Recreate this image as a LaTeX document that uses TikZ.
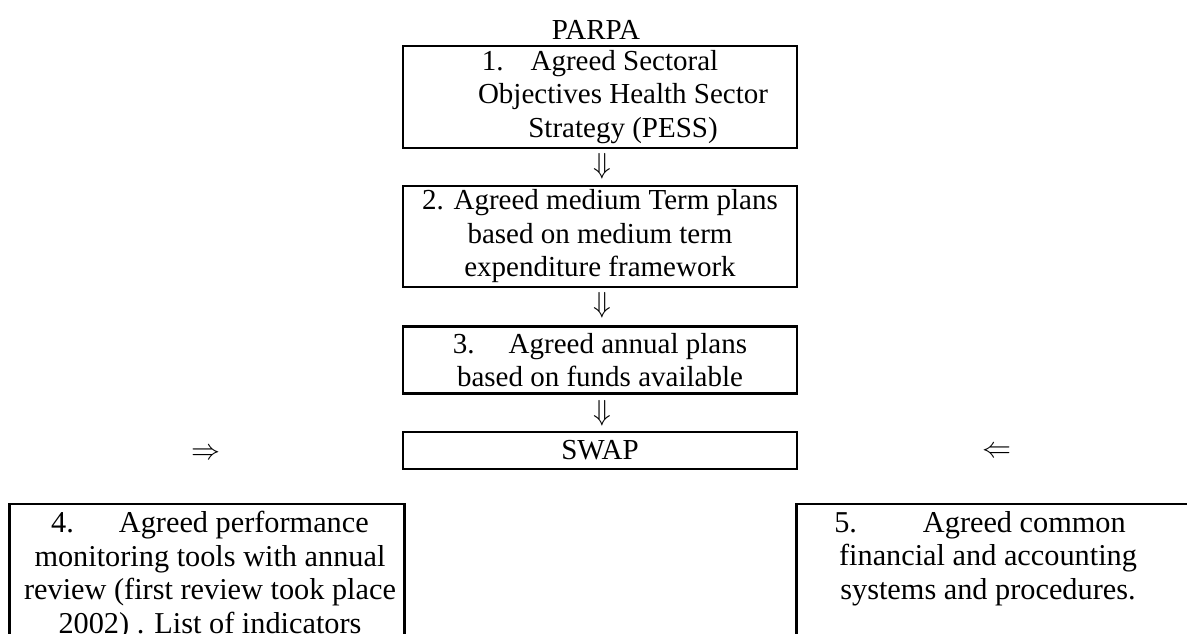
\RequirePackage{fix-cm}
\documentclass[tikz,border=0pt]{standalone}
\usepackage{fontspec}
\setmainfont{Liberation Serif}
\begin{document}
\begin{tikzpicture}[x=1pt,y=-1pt,
  frame/.style={draw, line width=2.6pt, inner sep=0pt},
  box/.style={frame, align=center, font=\fontsize{29}{33.5}\selectfont},
  txt/.style={inner sep=0pt, align=center, font=\fontsize{29}{33.5}\selectfont},
  bigtxt/.style={inner sep=0pt, align=center, font=\fontsize{30.3}{33.4}\selectfont},
  sym/.style={inner sep=0pt, font=\fontsize{29}{33.5}\selectfont}]
\useasboundingbox (0,0) rectangle (1187,633);
\clip (0,0) rectangle (1187,633);
\fill[white] (0,0) rectangle (1187,633);

\node[txt] (parpa) at (596,29.5) {PARPA};

\node[box, minimum width=394, minimum height=102] (b1) at (600,97)
  {1.\hspace{27pt}Agreed Sectoral\\
   \hspace*{46pt}Objectives Health Sector\\
   \hspace*{46pt}Strategy (PESS)};
\node[sym] (a1) at (602,166) {$\Downarrow$};

\node[box, minimum width=394, minimum height=101] (b2) at (600,236.5)
  {2. Agreed medium Term plans\\
   based on medium term\\
   expenditure framework};
\node[sym] (a2) at (602,305.5) {$\Downarrow$};

\node[box, minimum width=394, minimum height=67] (b3) at (600,360)
  {3.\hspace{34pt}Agreed annual plans\\
   based on funds available};
\node[sym] (a3) at (602,413) {$\Downarrow$};

\node[box, minimum width=394, minimum height=37] (swap) at (600,450.5) {SWAP};

\node[sym] (al) at (206,454) {$\Rightarrow$};
\node[sym] (ar) at (997,452) {$\Leftarrow$};

\node[frame, minimum width=395, minimum height=160] (b4) at (207,584) {};
\node[bigtxt, anchor=north] (t4) at (210,511.3)
  {4.\hspace{45pt}Agreed performance\\
   monitoring tools with annual\\
   review (first review took place\\
   2002) . List of indicators};

\node[frame, minimum width=395, minimum height=160] (b5) at (994,584) {};
\node[bigtxt, anchor=north] (t5) at (988,511.3)
  {5.\hspace{66pt}Agreed common\hspace{16pt}\mbox{}\\
   financial and accounting\\
   systems and procedures.};
\end{tikzpicture}
\end{document}
